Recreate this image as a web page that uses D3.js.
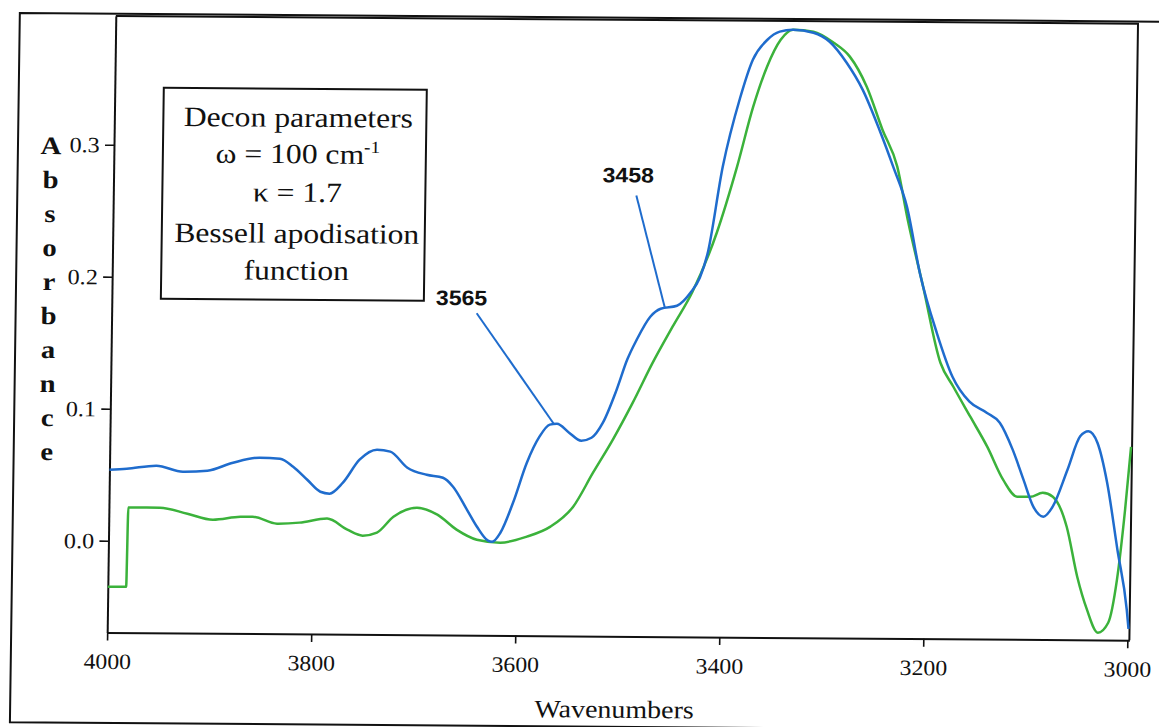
<!DOCTYPE html>
<html><head><meta charset="utf-8">
<script src="https://cdn.jsdelivr.net/npm/d3@7"></script>
<style>body{margin:0;background:#fff}svg{display:block}</style>
</head><body>
<svg id="chart" width="1159" height="727"></svg>
<script>
// ---- data ----
const wnBlue = [4000,3983,3954,3928,3904,3879,3853,3833,3820,3806,3793,3784,3771,3755,3738,3725,3708,3689,3673,3663,3649,3639,3628,3624,3616,3604,3591,3579,3569,3562,3550,3538,3528,3517,3504,3494,3485,3472,3462,3446,3433,3424,3417,3403,3387,3375,3361,3349,3336,3316,3300,3283,3267,3250,3236,3222,3208,3191,3175,3158,3141,3128,3115,3104,3094,3084,3075,3061,3049,3041,3032,3022,3011,3001,2999];
const absBlue = [0.0538,0.0546,0.0571,0.0527,0.0536,0.0598,0.0638,0.0631,0.0571,0.0473,0.0383,0.0369,0.0453,0.0628,0.0705,0.0691,0.0570,0.0518,0.0496,0.0429,0.0255,0.0127,0.0022,0.0014,0.0083,0.0311,0.0615,0.0813,0.0905,0.0912,0.0845,0.0785,0.0808,0.0923,0.1173,0.1402,0.1553,0.1728,0.1789,0.1813,0.1912,0.2026,0.2200,0.2870,0.3390,0.3681,0.3833,0.3895,0.3911,0.3889,0.3822,0.3664,0.3461,0.3158,0.2879,0.2577,0.2062,0.1623,0.1291,0.1103,0.1020,0.0945,0.0742,0.0515,0.0311,0.0236,0.0312,0.0593,0.0847,0.0886,0.0799,0.0499,-0.0008,-0.0463,-0.061];
const wnGreen = [4000,3982,3981,3950,3923,3898,3871,3859,3835,3813,3786,3766,3751,3737,3721,3698,3678,3659,3639,3616,3590,3567,3545,3526,3507,3488,3469,3450,3431,3408,3389,3374,3361,3348,3336,3316,3296,3280,3263,3247,3232,3221,3205,3187,3174,3157,3140,3124,3110,3097,3085,3075,3061,3050,3040,3029,3019,3011,3004,2999];
const absGreen = [-0.0348,-0.0348,0.0252,0.0253,0.0209,0.0165,0.0189,0.0190,0.0139,0.0148,0.0180,0.0097,0.0053,0.0077,0.0198,0.0268,0.0216,0.0104,0.0029,0.0008,0.0055,0.0132,0.0284,0.0543,0.0795,0.1076,0.1380,0.1654,0.1920,0.2368,0.2870,0.3325,0.3629,0.3834,0.3911,0.3897,0.3814,0.3710,0.3483,0.3158,0.2879,0.2478,0.1971,0.1396,0.1215,0.0989,0.0763,0.0514,0.0386,0.0386,0.0417,0.0388,0.0161,-0.0217,-0.0466,-0.0640,-0.0564,-0.0237,0.0293,0.0770];
const xTickValues = [4000,3800,3600,3400,3200,3000];
const yTickValues = [0.0,0.1,0.2,0.3];
const xTitle = "Wavenumbers";
const yTitle = "Absorbance";
const legendLines = ["Decon parameters","ω = 100 cm","κ = 1.7","Bessell apodisation","function"];
const annotWn = [3565,3458];
const annotAbs = [0.091,0.180];
const annotLabels = ["3565","3458"];

// ---- layout ----
const W = 1159, H = 727;
const plot = {left:111, right:1133.2, top:19.5, bottom:636};
const blue = "#1f6ccd", green = "#3bb23b";
const serif = "'Times New Roman','Liberation Serif','DejaVu Serif',serif";
const sans = "Arial,'Liberation Sans',sans-serif";

const svg = d3.select("#chart");
svg.append("rect").attr("width",W).attr("height",H).attr("fill","#fff");
// slight skew of the scanned original
const g = svg.append("g").attr("transform","matrix(1,0.0076,-0.014,1,5.08,-4.41)");

const x = d3.scaleLinear().domain([4000,2998]).range([plot.left, plot.right]);
const y = d3.scaleLinear().domain([-0.0695,0.3976]).range([plot.bottom, plot.top]);

function stext(parent, tx, ty, str, size, sx, anchor, family, weight){
  return parent.append("text")
    .attr("transform",`translate(${tx},${ty}) scale(${sx},1)`)
    .attr("text-anchor",anchor).attr("font-family",family)
    .attr("font-size",size).attr("font-weight",weight||"normal")
    .attr("fill","#111").text(str);
}

// outer frame
g.append("path").attr("d",`M1175,17.3 L15,17.3 L15,726.5 L1175,726.5`)
  .attr("fill","none").attr("stroke","#111").attr("stroke-width",2);

// plot frame (top & right)
g.append("path").attr("d",`M${plot.left},${plot.top} L${plot.right},${plot.top} L${plot.right},${plot.bottom}`)
  .attr("fill","none").attr("stroke","#111").attr("stroke-width",2);

// axes
const xAxis = g.append("g").attr("transform",`translate(0,${plot.bottom})`)
  .call(d3.axisBottom(x).tickValues(xTickValues).tickSize(8).tickSizeOuter(0).tickFormat(d3.format("d")));
const yAxis = g.append("g").attr("transform",`translate(${plot.left},0)`)
  .call(d3.axisLeft(y).tickValues(yTickValues).tickSize(9).tickPadding(4).tickSizeOuter(0).tickFormat(d3.format(".1f")));
[xAxis,yAxis].forEach(a=>{
  a.select(".domain").attr("stroke","#111").attr("stroke-width",2);
  a.selectAll(".tick line").attr("stroke","#111").attr("stroke-width",1.6);
});
xAxis.selectAll(".tick text").attr("font-family",serif).attr("font-size",22).attr("fill","#111")
  .attr("y",36.5).attr("dy",null).attr("transform","scale(1.08,1)");
yAxis.selectAll(".tick text").attr("font-family",serif).attr("font-size",22).attr("fill","#111")
  .attr("dy","0.33em").attr("transform","scale(1.1,1)");

// curves
const line = d3.line().x(d=>x(d[0])).y(d=>y(d[1])).curve(d3.curveMonotoneX);
const greenData = wnGreen.map((w,i)=>[w,absGreen[i]]);
const blueData = wnBlue.map((w,i)=>[w,absBlue[i]]);
g.append("path").datum(greenData).attr("d",line).attr("fill","none")
  .attr("stroke",green).attr("stroke-width",2.5).attr("stroke-linejoin","round");
g.append("path").datum(blueData).attr("d",line).attr("fill","none")
  .attr("stroke",blue).attr("stroke-width",2.5).attr("stroke-linejoin","round");

// annotations
const labelPos = [[435,306],[600,182]];
const leaderStart = [[476,314],[634,195]];
annotWn.forEach((w,i)=>{
  g.append("line").attr("x1",leaderStart[i][0]).attr("y1",leaderStart[i][1])
    .attr("x2",x(w)).attr("y2",y(annotAbs[i]))
    .attr("stroke",blue).attr("stroke-width",2);
  stext(g,labelPos[i][0],labelPos[i][1],annotLabels[i],21,1.1,"start",sans,"bold");
});

// legend box
g.append("rect").attr("x",160).attr("y",91).attr("width",263).attr("height",211)
  .attr("fill","none").attr("stroke","#111").attr("stroke-width",2);
const legendBase = [129,165.5,204,245,282];
legendLines.forEach((t,i)=>{
  const tx = stext(g,295,legendBase[i],t,28,1.13,"middle",serif);
  if(i===1){
    tx.append("tspan").attr("dy",-11).attr("font-size",17).text("-1");
  }
});

// y title (stacked letters)
yTitle.split("").forEach((ch,i)=>{
  stext(g,48,158+34*i,ch,25,1.15,"middle",serif,"600");
});
// x title
stext(g,619,717.5,xTitle,25,1.12,"middle",serif);
</script>
</body></html>
